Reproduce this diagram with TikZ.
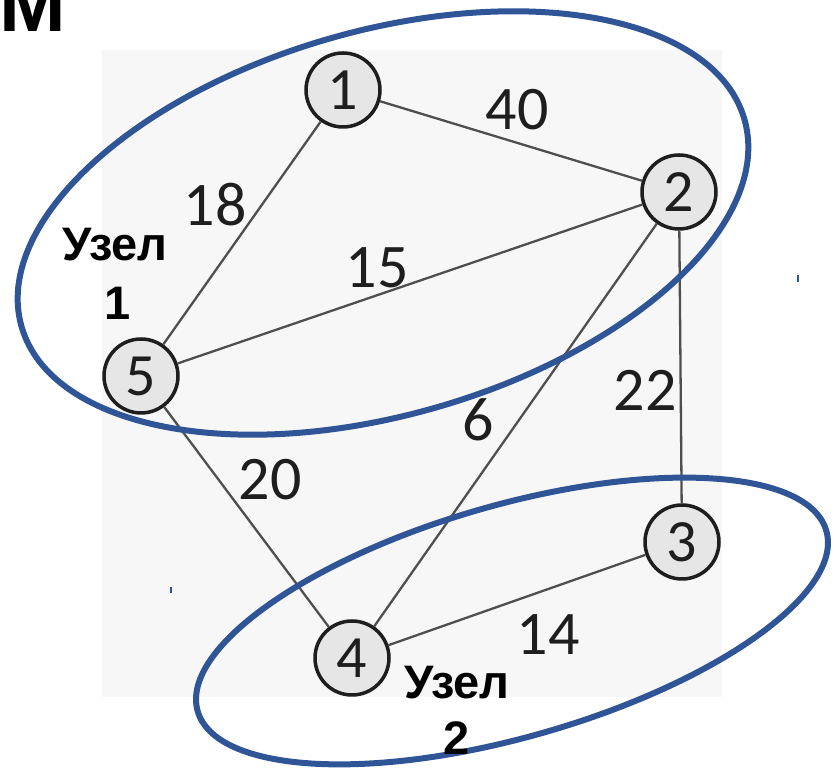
\documentclass[tikz,border=0pt]{standalone}
\usepackage{fontspec}
\setmainfont{Carlito}
\newfontfamily\boldsans{Liberation Sans}
\definecolor{panel}{HTML}{F7F7F7}
\definecolor{nodefill}{HTML}{E6E6E6}
\definecolor{nodeline}{HTML}{1E1E1E}
\definecolor{edgecol}{HTML}{4F4F4F}
\definecolor{ringblue}{HTML}{2F5597}
\definecolor{numcol}{HTML}{1E1E1E}
\tikzset{
  vertex/.style={circle, draw=nodeline, line width=3.5pt, fill=nodefill,
    minimum size=74pt, inner sep=0pt, text=numcol,
    font=\fontsize{60}{60}\selectfont},
  edge/.style={draw=edgecol, line width=2.3pt},
  weight/.style={inner sep=0pt, text=numcol, font=\fontsize{62}{62}\selectfont},
  ring/.style={draw=ringblue, line width=6pt},
  clusterlabel/.style={inner sep=0pt, font=\boldsans\bfseries\fontsize{47}{47}\selectfont},
  tick/.style={draw=ringblue, line width=1.5pt}
}
\begin{document}
\begin{tikzpicture}[x=1pt,y=1pt]
  \useasboundingbox (0,0) rectangle (836,770);
  \clip (0,0) rectangle (836,770);

  % light panel behind the graph
  \fill[panel] (102,73) rectangle (722,720);

  % heading letter, partly cut by the page edge
  \node[anchor=base west, inner sep=0pt, font=\boldsans\bfseries\fontsize{80}{80}\selectfont] (head) at (-1,738) {М};

  % vertices
  \node[vertex] (n1) at (343,680) {1};
  \node[vertex] (n2) at (679,578) {2};
  \node[vertex] (n5) at (141,394) {5};
  \node[vertex] (n4) at (352,112) {4};
  \node[vertex] (n3) at (682,228) {3};

  % weighted edges
  \draw[edge] (n1) -- (n2);
  \draw[edge] (n1) -- (n5);
  \draw[edge] (n5) -- (n2);
  \draw[edge] (n2) -- (n4);
  \draw[edge] (n2) -- (n3);
  \draw[edge] (n5) -- (n4);
  \draw[edge] (n4) -- (n3);

  % edge weights
  \node[weight] (w12) at (517,660) {40};
  \node[weight] (w15) at (215,565) {18};
  \node[weight] (w25) at (377,502) {15};
  \node[weight] (w23) at (645,380) {22};
  \node[weight] (w24) at (478,350) {6};
  \node[weight] (w45) at (270,290) {20};
  \node[weight] (w34) at (548,135) {14};

  % cluster outlines
  \draw[ring, rotate around={16:(383,547)}] (383,547) ellipse [x radius=376pt, y radius=192pt];
  \draw[ring, rotate around={16:(512,149)}] (512,149) ellipse [x radius=327pt, y radius=116pt];

  % cluster names
  \node[clusterlabel] (c1a) at (115,525) {Узел};
  \node[clusterlabel] (c1b) at (118,467) {1};
  \node[clusterlabel] (c2a) at (457,87) {Узел};
  \node[clusterlabel] (c2b) at (457,32) {2};

  % small stray marks
  \draw[tick] (798,488) -- (798,495);
  \draw[tick] (171,177) -- (171,183);
\end{tikzpicture}
\end{document}
